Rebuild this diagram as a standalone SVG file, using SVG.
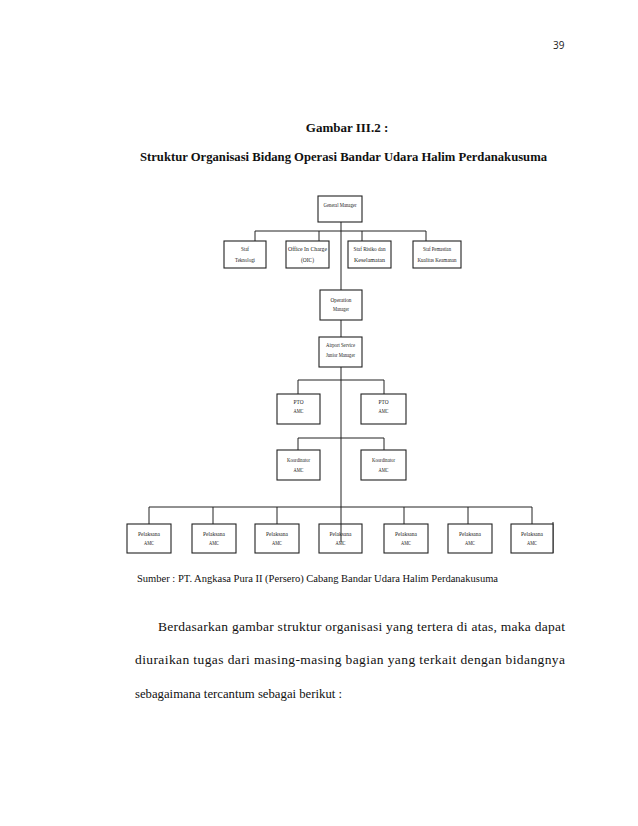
<svg xmlns="http://www.w3.org/2000/svg" width="638" height="826" viewBox="0 0 638 826">
<style>
.box{fill:#fff;stroke:#222;stroke-width:1.1}
.ln{stroke:#222;stroke-width:1;fill:none}
.bt{font-family:"Liberation Serif",serif;font-size:7px;fill:#222;text-anchor:middle}
.tt{font-family:"Liberation Serif",serif;font-weight:bold;font-size:13px;fill:#111}
.pt{font-family:"Liberation Serif",serif;font-size:13.5px;fill:#111}
</style>
<rect width="638" height="826" fill="#fff"/>
<text x="553" y="49" font-family="Open Sans, sans-serif" font-size="10" fill="#222">39</text>
<text class="tt" x="347" y="132" text-anchor="middle">Gambar III.2 :</text>
<text class="tt" x="140" y="161" textLength="407" lengthAdjust="spacingAndGlyphs">Struktur Organisasi Bidang Operasi Bandar Udara Halim Perdanakusuma</text>

<g id="connectors">
<path class="ln" d="M341 222V290M341 320V337M341 367V542"/>
<path class="ln" d="M255 241V231H426V241M319 231V241M362 231V241"/>
<path class="ln" d="M298 394V380H384V394"/>
<path class="ln" d="M298 450V438H384V450"/>
<path class="ln" d="M149 524V507H532V524M213 507V524M277 507V524M404 507V524M468 507V524"/>
<path class="ln" d="M553 522V553"/>
</g>

<g id="gm"><rect class="box" x="318" y="196" width="44" height="26"/><text class="bt" x="340" y="207" textLength="33" lengthAdjust="spacingAndGlyphs">General Manager</text></g>
<g id="staf-teknologi"><rect class="box" x="224" y="241" width="42" height="27"/><text class="bt" x="245" y="251" textLength="8" lengthAdjust="spacingAndGlyphs">Staf</text><text class="bt" x="245" y="262" textLength="20" lengthAdjust="spacingAndGlyphs">Teknologi</text></g>
<g id="oic"><rect class="box" x="286" y="241" width="43" height="27"/><text class="bt" x="307.5" y="251" textLength="39" lengthAdjust="spacingAndGlyphs">Office In Charge</text><text class="bt" x="307.5" y="262" textLength="13" lengthAdjust="spacingAndGlyphs">(OIC)</text></g>
<g id="staf-risiko"><rect class="box" x="348" y="241" width="43" height="27"/><text class="bt" x="369.5" y="251" textLength="32" lengthAdjust="spacingAndGlyphs">Staf Risiko dan</text><text class="bt" x="369.5" y="262" textLength="31" lengthAdjust="spacingAndGlyphs">Keselamatan</text></g>
<g id="staf-pemastian"><rect class="box" x="413" y="241" width="48" height="27"/><text class="bt" x="437" y="251" textLength="28" lengthAdjust="spacingAndGlyphs">Staf Pemastian</text><text class="bt" x="437" y="262" textLength="39" lengthAdjust="spacingAndGlyphs">Kualitas Keamanan</text></g>
<g id="op-manager"><rect class="box" x="320" y="290" width="42" height="30"/><text class="bt" x="341" y="302" textLength="21" lengthAdjust="spacingAndGlyphs">Operation</text><text class="bt" x="341" y="311" textLength="16" lengthAdjust="spacingAndGlyphs">Manager</text></g>
<g id="airport-service"><rect class="box" x="319" y="337" width="43" height="30"/><text class="bt" x="340.5" y="347" textLength="29" lengthAdjust="spacingAndGlyphs">Airport Service</text><text class="bt" x="340.5" y="357" textLength="29" lengthAdjust="spacingAndGlyphs">Junior Manager</text></g>
<g id="pto-1"><rect class="box" x="277" y="394" width="43" height="30"/><text class="bt" x="298.5" y="404" textLength="10" lengthAdjust="spacingAndGlyphs">PTO</text><text class="bt" x="298.5" y="413" textLength="10" lengthAdjust="spacingAndGlyphs">AMC</text></g>
<g id="pto-2"><rect class="box" x="361" y="394" width="45" height="30"/><text class="bt" x="383.5" y="404" textLength="10" lengthAdjust="spacingAndGlyphs">PTO</text><text class="bt" x="383.5" y="413" textLength="10" lengthAdjust="spacingAndGlyphs">AMC</text></g>
<g id="koord-1"><rect class="box" x="277" y="450" width="43" height="30"/><text class="bt" x="298.5" y="462" textLength="23" lengthAdjust="spacingAndGlyphs">Koordinator</text><text class="bt" x="298.5" y="472" textLength="10" lengthAdjust="spacingAndGlyphs">AMC</text></g>
<g id="koord-2"><rect class="box" x="361" y="450" width="45" height="30"/><text class="bt" x="383.5" y="462" textLength="23" lengthAdjust="spacingAndGlyphs">Koordinator</text><text class="bt" x="383.5" y="472" textLength="10" lengthAdjust="spacingAndGlyphs">AMC</text></g>
<g id="pelaksana-1"><rect class="box" x="127" y="524" width="44" height="29"/><text class="bt" x="149" y="536" textLength="22" lengthAdjust="spacingAndGlyphs">Pelaksana</text><text class="bt" x="149" y="545" textLength="10" lengthAdjust="spacingAndGlyphs">AMC</text></g>
<g id="pelaksana-2"><rect class="box" x="192" y="524" width="44" height="29"/><text class="bt" x="214" y="536" textLength="22" lengthAdjust="spacingAndGlyphs">Pelaksana</text><text class="bt" x="214" y="545" textLength="10" lengthAdjust="spacingAndGlyphs">AMC</text></g>
<g id="pelaksana-3"><rect class="box" x="255" y="524" width="44" height="29"/><text class="bt" x="277" y="536" textLength="22" lengthAdjust="spacingAndGlyphs">Pelaksana</text><text class="bt" x="277" y="545" textLength="10" lengthAdjust="spacingAndGlyphs">AMC</text></g>
<g id="pelaksana-4"><rect class="box" x="319" y="524" width="43" height="29" style="fill:none"/><text class="bt" x="340.5" y="536" textLength="22" lengthAdjust="spacingAndGlyphs">Pelaksana</text><text class="bt" x="340.5" y="545" textLength="10" lengthAdjust="spacingAndGlyphs">AMC</text></g>
<g id="pelaksana-5"><rect class="box" x="384" y="524" width="44" height="29"/><text class="bt" x="406" y="536" textLength="22" lengthAdjust="spacingAndGlyphs">Pelaksana</text><text class="bt" x="406" y="545" textLength="10" lengthAdjust="spacingAndGlyphs">AMC</text></g>
<g id="pelaksana-6"><rect class="box" x="448" y="524" width="44" height="29"/><text class="bt" x="470" y="536" textLength="22" lengthAdjust="spacingAndGlyphs">Pelaksana</text><text class="bt" x="470" y="545" textLength="10" lengthAdjust="spacingAndGlyphs">AMC</text></g>
<g id="pelaksana-7"><rect class="box" x="511" y="524" width="42" height="29"/><text class="bt" x="532" y="536" textLength="22" lengthAdjust="spacingAndGlyphs">Pelaksana</text><text class="bt" x="532" y="545" textLength="10" lengthAdjust="spacingAndGlyphs">AMC</text></g>

<text x="137" y="582" font-family="Liberation Serif, serif" font-size="10" fill="#111" textLength="361" lengthAdjust="spacingAndGlyphs">Sumber : PT. Angkasa Pura II (Persero) Cabang Bandar Udara Halim  Perdanakusuma</text>
<text class="pt" x="158" y="631" textLength="407" lengthAdjust="spacing">Berdasarkan gambar struktur organisasi yang tertera di atas, maka dapat</text>
<text class="pt" x="135" y="664" textLength="430" lengthAdjust="spacing">diuraikan tugas dari masing-masing bagian yang terkait dengan bidangnya</text>
<text class="pt" x="135" y="698" textLength="207" lengthAdjust="spacingAndGlyphs">sebagaimana tercantum sebagai berikut :</text>
</svg>
